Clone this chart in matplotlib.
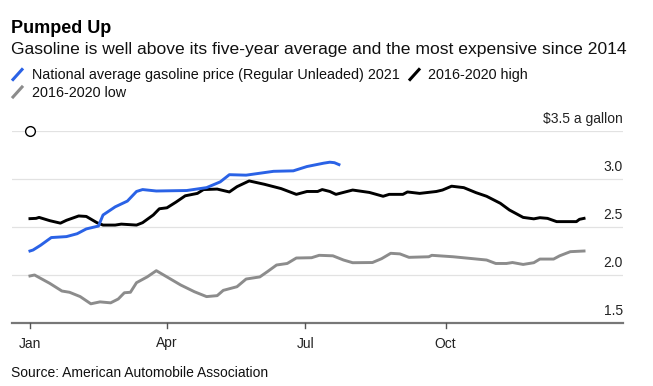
import matplotlib
matplotlib.use("Agg")
import matplotlib.pyplot as plt
from matplotlib.lines import Line2D

plt.rcParams['font.family'] = ['Liberation Sans', 'DejaVu Sans']

# Day-of-year (0 = Jan 1) and price values
blue_days = [0, 2, 7, 14, 24, 31, 37, 45, 48, 56, 64, 70, 74, 83, 103, 116, 125, 131, 142,
             160, 173, 182, 193, 197, 200, 203]
blue_vals = [2.25, 2.26, 2.31, 2.39, 2.40, 2.43, 2.48, 2.51, 2.625, 2.71, 2.77, 2.87, 2.89,
             2.875, 2.88, 2.91, 2.97, 3.045, 3.04, 3.08, 3.085, 3.13, 3.165, 3.175, 3.17, 3.15]

high_days = [0, 4, 6, 13, 20, 24, 32, 37, 44, 48, 56, 60, 70, 74, 81, 85, 90, 96, 102, 110,
             114, 123, 131, 136, 144, 154, 165, 175, 182, 189, 192, 197, 201, 212, 223, 232,
             236, 245, 248, 256, 267, 271, 277, 285, 293, 300, 309, 315, 324, 331, 335, 340,
             346, 359, 361, 364]
high_vals = [2.587, 2.59, 2.60, 2.566, 2.54, 2.57, 2.615, 2.61, 2.545, 2.52, 2.52, 2.53, 2.52,
             2.545, 2.625, 2.69, 2.70, 2.76, 2.825, 2.85, 2.89, 2.895, 2.865, 2.92, 2.98,
             2.945, 2.90, 2.84, 2.87, 2.87, 2.89, 2.87, 2.84, 2.885, 2.86, 2.82, 2.84, 2.84,
             2.865, 2.85, 2.87, 2.885, 2.925, 2.91, 2.858, 2.82, 2.747, 2.677, 2.60, 2.585,
             2.597, 2.59, 2.556, 2.556, 2.58, 2.59]

low_days = [0, 3, 13, 21, 26, 33, 40, 46, 53, 58, 62, 66, 70, 77, 83, 90, 99, 108, 116, 123,
            127, 136, 142, 151, 156, 162, 169, 175, 185, 190, 199, 206, 212, 225, 231, 237,
            243, 249, 262, 264, 278, 291, 300, 306, 313, 317, 324, 331, 335, 344, 348, 355, 364]
low_vals = [1.99, 2.00, 1.913, 1.833, 1.82, 1.775, 1.70, 1.72, 1.71, 1.75, 1.815, 1.82, 1.92,
            1.98, 2.045, 1.98, 1.896, 1.826, 1.775, 1.785, 1.84, 1.878, 1.958, 1.98, 2.035,
            2.104, 2.12, 2.177, 2.18, 2.205, 2.20, 2.156, 2.128, 2.13, 2.17, 2.226, 2.22,
            2.184, 2.19, 2.205, 2.19, 2.17, 2.156, 2.12, 2.12, 2.13, 2.11, 2.128, 2.166,
            2.166, 2.20, 2.243, 2.25]

month_ticks = [0, 90, 181, 273]
month_labels = ["Jan", "Apr", "Jul", "Oct"]
y_ticks = [1.5, 2.0, 2.5, 3.0, 3.5]
y_labels = ["1.5", "2.0", "2.5", "3.0", "$3.5 a gallon"]

W, H = 653, 386
fig = plt.figure(figsize=(W / 100, H / 100), dpi=100)

def fx(px):
    return px / W

def fy(py):
    return 1 - py / H

ax = fig.add_axes([fx(12), fy(323), fx(623) - fx(12), fy(131) - fy(323)])
ax.set_xlim(-11.8, 389.6)
ax.set_ylim(1.5, 3.5)
for s in ax.spines.values():
    s.set_visible(False)
ax.set_yticks([])
ax.set_xticks([])

PX = 2.0 / 192  # data units per pixel vertically

for v in y_ticks[1:]:
    ax.axhline(v, color='#e2e2e2', lw=0.9, zorder=0)
ax.axhline(1.5, color='#777777', lw=1.6, zorder=1, clip_on=False)

ax.plot(low_days, low_vals, color='#8c8c8c', lw=2.1, zorder=3, solid_joinstyle='round')
ax.plot(high_days, high_vals, color='#000000', lw=2.1, zorder=4, solid_joinstyle='round')
ax.plot(blue_days, blue_vals, color='#2a62e6', lw=2.1, zorder=5, solid_joinstyle='round')

ax.plot([0], [3.5], marker='o', ms=7, mfc='white', mec='black', mew=1.0, zorder=6,
        clip_on=False)

# y labels (right aligned, above gridlines)
for v, lab in zip(y_ticks, y_labels):
    ax.annotate(lab, xy=(1.0, v), xycoords=('axes fraction', 'data'),
                xytext=(0, 7.8 * 0.72), textcoords='offset points', ha='right',
                va='baseline', fontsize=10, color='#222222')

# x ticks and labels
for d, lab in zip(month_ticks, month_labels):
    ax.add_line(Line2D([d, d], [1.5, 1.5 - 5 * PX], color='#555555', lw=1.0,
                       clip_on=False))
    ax.text(d, 1.5 - 24.5 * PX, lab, ha='center', va='baseline', fontsize=10,
            color='#222222')

fig.text(fx(11), fy(33), "Pumped Up", fontsize=13, fontweight='bold', va='baseline',
         ha='left', color='black')
fig.text(fx(11), fy(54), "Gasoline is well above its five-year average and the most expensive since 2014",
         fontsize=12.6, va='baseline', ha='left', color='#111111')

# legend
def legend_item(x0, ybase, color, label):
    yc = ybase - 5
    fig.add_artist(Line2D([fx(x0), fx(x0 + 9)], [fy(yc + 5), fy(yc - 5)], color=color,
                          lw=2.2, transform=fig.transFigure))
    fig.text(fx(x0 + 18.5), fy(ybase), label, fontsize=10.4, va='baseline', ha='left',
             color='#111111')

legend_item(13, 79.5, '#2a62e6', "National average gasoline price (Regular Unleaded) 2021")
legend_item(410, 79.5, '#000000', "2016-2020 high")
legend_item(13, 97, '#8c8c8c', "2016-2020 low")

fig.text(fx(11), fy(376.7), "Source: American Automobile Association", fontsize=10,
         va='baseline', ha='left', color='#111111')

fig.savefig("out.png", dpi=100)
